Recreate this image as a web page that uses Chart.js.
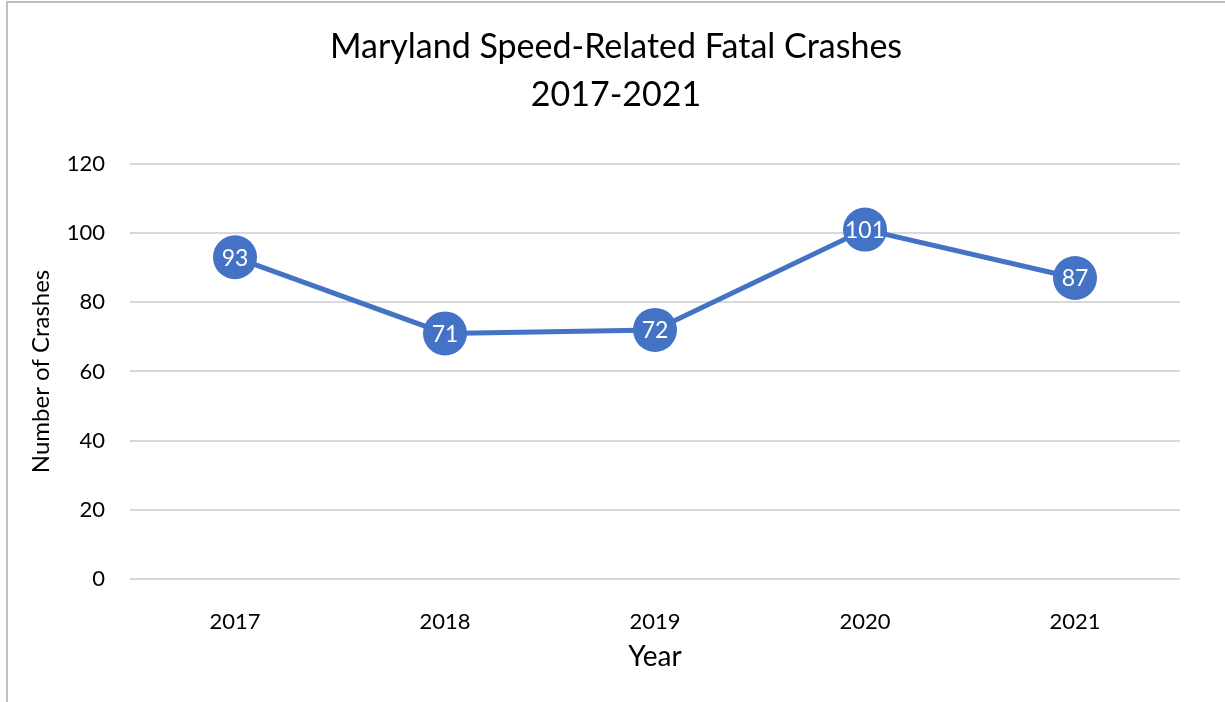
<!DOCTYPE html>
<html lang="en">
<head>
    <meta charset="UTF-8">
    <title>Maryland Speed-Related Fatal Crashes 2017-2021</title>
    <style>
        html, body { margin: 0; padding: 0; background: #ffffff; }
        #wrap { position: relative; width: 1225px; height: 702px; }
    </style>
    <script src="https://cdn.jsdelivr.net/npm/chart.js@4/dist/chart.umd.min.js"></script>
</head>
<body>
<div id="wrap"><canvas id="lineChart"></canvas></div>
<script>
    // Chart data
    const years = ['2017', '2018', '2019', '2020', '2021'];
    const crashes = [93, 71, 72, 101, 87];
    const titleLines = ['Maryland Speed-Related Fatal Crashes', '2017-2021'];
    const yTicks = [0, 20, 40, 60, 80, 100, 120];

    const blue = '#4472C4';
    const fontName = 'Lato, "Open Sans", sans-serif';

    // Frame of the chart box (left and top edges)
    const framePlugin = {
        id: 'frame',
        beforeDraw(chart) {
            const ctx = chart.ctx;
            ctx.save();
            ctx.strokeStyle = '#c0c0c0';
            ctx.lineWidth = 2;
            ctx.beginPath();
            ctx.moveTo(7, 702);
            ctx.lineTo(7, 2);
            ctx.lineTo(1225, 2);
            ctx.stroke();
            ctx.restore();
        }
    };

    // White value labels inside the points
    const valueLabels = {
        id: 'valueLabels',
        afterDatasetsDraw(chart) {
            const ctx = chart.ctx;
            const meta = chart.getDatasetMeta(0);
            ctx.save();
            ctx.fillStyle = '#ffffff';
            ctx.font = '23px ' + fontName;
            ctx.textAlign = 'center';
            ctx.textBaseline = 'middle';
            meta.data.forEach((pt, i) => {
                ctx.fillText(String(crashes[i]), pt.x, pt.y + 1);
            });
            ctx.restore();
        }
    };

    const ctx = document.getElementById('lineChart').getContext('2d');
    new Chart(ctx, {
        type: 'line',
        data: {
            labels: years,
            datasets: [{
                data: crashes,
                borderColor: blue,
                backgroundColor: blue,
                borderWidth: 5,
                pointRadius: 22,
                pointHoverRadius: 22,
                pointBorderWidth: 0,
                pointBackgroundColor: blue,
                tension: 0
            }]
        },
        options: {
            responsive: true,
            maintainAspectRatio: false,
            animation: false,
            events: [],
            layout: { padding: { left: 7, right: 0, top: 0, bottom: 0 } },
            plugins: {
                legend: { display: false },
                tooltip: { enabled: false },
                title: {
                    display: true,
                    text: titleLines,
                    color: '#000000',
                    font: { family: fontName, size: 34, weight: 'normal', lineHeight: 1.41 },
                    padding: { top: 23, bottom: 45 }
                }
            },
            scales: {
                x: {
                    offset: true,
                    grid: { display: false },
                    border: { display: false },
                    ticks: {
                        color: '#000000',
                        font: { family: fontName, size: 22 },
                        padding: 22
                    },
                    title: {
                        display: true,
                        text: 'Year',
                        color: '#000000',
                        font: { family: fontName, size: 28 },
                        padding: { top: 28, bottom: 28 }
                    },
                    afterFit(scale) { scale.height = 123; }
                },
                y: {
                    min: 0,
                    max: 120,
                    afterBuildTicks(scale) {
                        scale.ticks = yTicks.map(v => ({ value: v }));
                    },
                    grid: {
                        color: '#d9d9d9',
                        lineWidth: 2,
                        drawTicks: false
                    },
                    border: { display: false },
                    ticks: {
                        color: '#000000',
                        font: { family: fontName, size: 22 },
                        padding: 25
                    },
                    title: {
                        display: true,
                        text: 'Number of Crashes',
                        color: '#000000',
                        font: { family: fontName, size: 24 },
                        padding: { top: 20, bottom: 20 }
                    },
                    afterFit(scale) { scale.width = 123; }
                },
                // empty right-hand space so the plot ends where the reference does
                yRight: {
                    position: 'right',
                    min: 0,
                    max: 120,
                    grid: { display: false },
                    border: { display: false },
                    ticks: { display: false },
                    afterFit(scale) { scale.width = 45; }
                }
            }
        },
        plugins: [framePlugin, valueLabels]
    });
</script>
</body>
</html>
